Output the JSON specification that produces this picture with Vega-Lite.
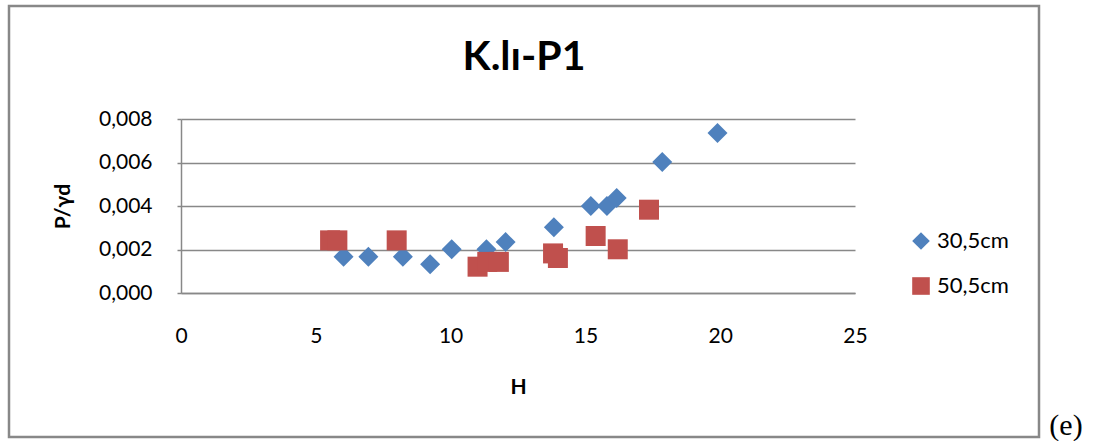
{
  "$schema": "https://vega.github.io/schema/vega-lite/v6.json",
  "autosize": {"type": "pad"},
  "padding": {"left": 7, "top": 4, "right": 0, "bottom": 0},
  "background": "white",
  "config": {
    "font": "Lato",
    "view": {"stroke": "#888888", "strokeWidth": 2.5},
    "concat": {"spacing": 5}
  },
  "hconcat": [
    {
      "width": 1030,
      "height": 431,
      "title": {
        "text": "K.lı-P1",
        "font": "Lato",
        "fontSize": 41,
        "fontWeight": "bold",
        "color": "black",
        "anchor": "middle",
        "baseline": "alphabetic",
        "offset": -105
      },
      "data": {
        "values": [
          {"H": 6.03, "P": 0.00167, "series": "30,5cm"},
          {"H": 6.95, "P": 0.00167, "series": "30,5cm"},
          {"H": 8.23, "P": 0.00167, "series": "30,5cm"},
          {"H": 9.24, "P": 0.00132, "series": "30,5cm"},
          {"H": 10.04, "P": 0.00201, "series": "30,5cm"},
          {"H": 11.33, "P": 0.00201, "series": "30,5cm"},
          {"H": 12.04, "P": 0.00234, "series": "30,5cm"},
          {"H": 13.83, "P": 0.00302, "series": "30,5cm"},
          {"H": 15.2, "P": 0.0040, "series": "30,5cm"},
          {"H": 15.8, "P": 0.0040, "series": "30,5cm"},
          {"H": 16.16, "P": 0.00437, "series": "30,5cm"},
          {"H": 17.85, "P": 0.00602, "series": "30,5cm"},
          {"H": 19.9, "P": 0.00736, "series": "30,5cm"},
          {"H": 5.53, "P": 0.00242, "series": "50,5cm"},
          {"H": 5.8, "P": 0.00242, "series": "50,5cm"},
          {"H": 8.0, "P": 0.00242, "series": "50,5cm"},
          {"H": 11.0, "P": 0.00121, "series": "50,5cm"},
          {"H": 11.36, "P": 0.00143, "series": "50,5cm"},
          {"H": 11.79, "P": 0.00143, "series": "50,5cm"},
          {"H": 13.8, "P": 0.00182, "series": "50,5cm"},
          {"H": 13.98, "P": 0.00161, "series": "50,5cm"},
          {"H": 15.38, "P": 0.00262, "series": "50,5cm"},
          {"H": 16.2, "P": 0.00201, "series": "50,5cm"},
          {"H": 17.36, "P": 0.00383, "series": "50,5cm"}
        ]
      },
      "mark": {"type": "point", "filled": true, "opacity": 1, "size": 400},
      "encoding": {
        "x": {
          "field": "H",
          "type": "quantitative",
          "scale": {"domain": [0, 25], "range": [172, 846], "nice": false, "zero": false},
          "axis": {
            "title": "H",
            "orient": "bottom",
            "offset": -144,
            "values": [0, 5, 10, 15, 20, 25],
            "grid": false,
            "ticks": false,
            "labelFlush": false,
            "domainColor": "#888888",
            "domainWidth": 1.5,
            "labelFont": "Lato",
            "labelFontSize": 21,
            "labelColor": "black",
            "labelPadding": 32,
            "titleFont": "Lato",
            "titleFontSize": 21,
            "titleFontWeight": "bold",
            "titleColor": "black",
            "titlePadding": 30
          }
        },
        "y": {
          "field": "P",
          "type": "quantitative",
          "scale": {"domain": [0, 0.008], "range": [287, 113], "nice": false, "zero": false},
          "axis": {
            "title": "P/γd",
            "orient": "left",
            "offset": -172,
            "values": [0, 0.002, 0.004, 0.006, 0.008],
            "labelExpr": "replace(format(datum.value, '.3f'), '.', ',')",
            "grid": true,
            "gridColor": "#888888",
            "gridWidth": 1.5,
            "domainColor": "#888888",
            "domainWidth": 1.5,
            "tickColor": "#888888",
            "tickWidth": 1.5,
            "tickSize": 4,
            "labelFont": "Lato",
            "labelFontSize": 21,
            "labelColor": "black",
            "labelPadding": 25,
            "titleFont": "Lato",
            "titleFontSize": 21,
            "titleFontWeight": "bold",
            "titleColor": "black",
            "titlePadding": 25
          }
        },
        "color": {
          "field": "series",
          "type": "nominal",
          "scale": {"domain": ["30,5cm", "50,5cm"], "range": ["#4F81BD", "#C0504D"]},
          "legend": {
            "orient": "none",
            "legendX": 901,
            "legendY": 224,
            "title": null,
            "padding": 0,
            "symbolSize": 310,
            "symbolStrokeWidth": 0,
            "labelFont": "Lato",
            "labelFontSize": 22,
            "labelColor": "black",
            "labelOffset": 5,
            "rowPadding": 23
          }
        },
        "shape": {
          "field": "series",
          "type": "nominal",
          "scale": {"domain": ["30,5cm", "50,5cm"], "range": ["diamond", "square"]}
        }
      }
    },
    {
      "width": 40,
      "height": 435,
      "view": {"stroke": null},
      "data": {"values": [{"label": "(e)"}]},
      "mark": {"type": "text", "font": "Liberation Serif", "fontSize": 30, "baseline": "bottom", "align": "center", "color": "black"},
      "encoding": {
        "text": {"field": "label"},
        "y": {"value": "height"}
      }
    }
  ]
}
